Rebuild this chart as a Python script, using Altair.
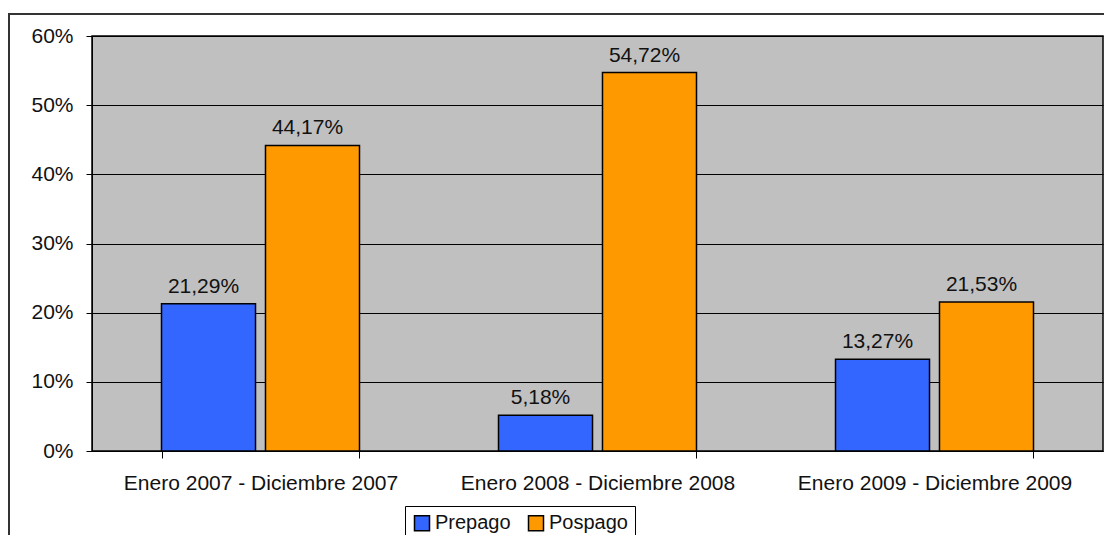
import altair as alt
import pandas as pd

periods = ["Enero 2007 - Diciembre 2007", "Enero 2008 - Diciembre 2008", "Enero 2009 - Diciembre 2009"]
series = ["Prepago", "Pospago"]
prepago = [21.29, 5.18, 13.27]
pospago = [44.17, 54.72, 21.53]
y_ticks = [0, 10, 20, 30, 40, 50, 60]
colors = ["#3366FF", "#FF9900"]

rows = []
for i, p in enumerate(periods):
    rows.append({"periodo": p, "serie": "Prepago", "valor": prepago[i]})
    rows.append({"periodo": p, "serie": "Pospago", "valor": pospago[i]})
df = pd.DataFrame(rows)

W, H = 1011, 415
FONT = "Liberation Sans"
TXT = "#111111"
FS = 21

x = alt.X("periodo:N", sort=periods, title=None,
          scale=alt.Scale(paddingInner=0.4125, paddingOuter=0.20625),
          axis=alt.Axis(labelAngle=0, tickBand="extent", tickSize=7, labelPadding=14, labelLimit=600,
                        labelFontSize=FS, labelFont=FONT, labelColor=TXT,
                        domainColor="black", tickColor="black", grid=False))
xo = alt.XOffset("serie:N", sort=series, scale=alt.Scale(paddingInner=0.096, paddingOuter=0))
y = alt.Y("valor:Q", scale=alt.Scale(domain=[0, 60], nice=False), title=None,
          axis=alt.Axis(values=y_ticks, labelExpr="datum.value + '%'", tickSize=6, labelPadding=13,
                        labelFontSize=FS, labelFont=FONT, labelColor=TXT,
                        gridColor="black", gridWidth=1, domainColor="black", tickColor="black"))
color = alt.Color("serie:N", sort=series, scale=alt.Scale(domain=series, range=colors),
                  legend=alt.Legend(orient="none", legendX=313, legendY=470, direction="horizontal",
                                    title=None, symbolType="square", symbolSize=225,
                                    symbolStrokeColor="black", symbolStrokeWidth=1.5, symbolOpacity=1,
                                    labelFontSize=20, labelFont=FONT, labelColor=TXT, labelOffset=3,
                                    columnPadding=14, strokeColor="black", fillColor="white", padding=7))

bars = alt.Chart(df).mark_bar(stroke="black", strokeWidth=1.5, opacity=1).encode(
    x=x, xOffset=xo, y=y, color=color)

labels = alt.Chart(df).transform_calculate(
    txt="replace(format(datum.valor, '.2f'), '.', ',') + '%'"
).mark_text(baseline="alphabetic", dy=-11, dx=-5, fontSize=FS, font=FONT, color=TXT).encode(
    x=x, xOffset=xo, y=y, text="txt:N")

frame_df = pd.DataFrame({"a": [0]})
frame_v = alt.Chart(frame_df).mark_rule(color="#333333", strokeWidth=2).encode(
    x=alt.value(-83), y=alt.value(-22), y2=alt.value(600))
frame_h = alt.Chart(frame_df).mark_rule(color="#333333", strokeWidth=2).encode(
    x=alt.value(-84), x2=alt.value(1100), y=alt.value(-22))

chart = alt.layer(bars, labels, frame_v, frame_h).properties(
    width=W, height=H,
    autosize=alt.AutoSizeParams(type="none"),
    padding={"left": 84, "top": 28, "right": 1, "bottom": 84},
    background="white",
).configure_view(fill="#C0C0C0", stroke="black", strokeWidth=1.5)

chart.save("out.html", embed_options={"renderer": "svg", "actions": False})
